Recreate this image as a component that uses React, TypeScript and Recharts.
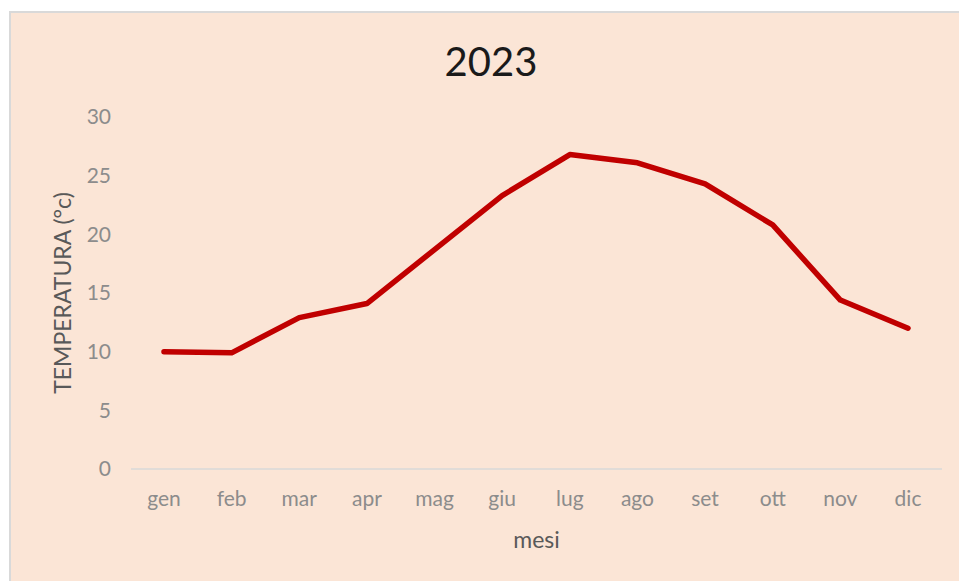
import React from 'react';
import { LineChart, Line, XAxis, YAxis } from 'recharts';

const months = ['gen', 'feb', 'mar', 'apr', 'mag', 'giu', 'lug', 'ago', 'set', 'ott', 'nov', 'dic'];
const temps = [10, 9.9, 12.9, 14.1, 18.7, 23.3, 26.8, 26.1, 24.3, 20.8, 14.4, 12.0];
const yTicks = [0, 5, 10, 15, 20, 25, 30];

const data = months.map((m, i) => ({ mese: m, temp: temps[i] }));

const font = 'Lato, "Open Sans", sans-serif';

const YLabel = (props: any) => {
  const vb = props.viewBox;
  const x = vb.x - 9;
  const y = vb.y + vb.height / 2;
  return (
    <text
      x={x}
      y={y}
      transform={`rotate(-90 ${x} ${y})`}
      textAnchor="middle"
      dominantBaseline="central"
      fill="#595959"
      fontSize={23}
      fontFamily={font}
    >
      TEMPERATURA (°c)
    </text>
  );
};

export default function App() {
  return (
    <div
      style={{
        position: 'absolute',
        left: 9,
        top: 11,
        width: 948,
        height: 568,
        background: '#FBE5D6',
        borderTop: '2px solid #d9d9d9',
        borderLeft: '2px solid #d9d9d9',
        fontFamily: font,
      }}
    >
      <div
        style={{
          position: 'absolute',
          left: 0,
          width: 960,
          top: 26,
          textAlign: 'center',
          fontSize: 40,
          lineHeight: '44px',
          color: '#1a1a1a',
        }}
      >
        2023
      </div>
      <LineChart width={948} height={568} data={data} margin={{ top: 104, right: 17, bottom: 52, left: 60 }}>
        <XAxis
          dataKey="mese"
          height={60}
          padding={{ left: 33, right: 34 }}
          axisLine={{ stroke: '#d9d9d9', strokeWidth: 1.5 }}
          tickLine={false}
          tickMargin={16}
          tick={{ fill: '#8c8c8c', fontSize: 21, fontFamily: font }}
          label={{ value: 'mesi', position: 'bottom', offset: 3, fill: '#595959', fontSize: 23, fontFamily: font }}
        />
        <YAxis
          width={60}
          domain={[0, 30]}
          ticks={yTicks}
          axisLine={false}
          tickLine={false}
          tickMargin={14}
          tick={{ fill: '#8c8c8c', fontSize: 21, fontFamily: font }}
          label={<YLabel />}
        />
        <Line
          type="linear"
          dataKey="temp"
          stroke="#C00000"
          strokeWidth={5.5}
          strokeLinejoin="round"
          strokeLinecap="round"
          dot={false}
          activeDot={false}
          isAnimationActive={false}
        />
      </LineChart>
    </div>
  );
}
